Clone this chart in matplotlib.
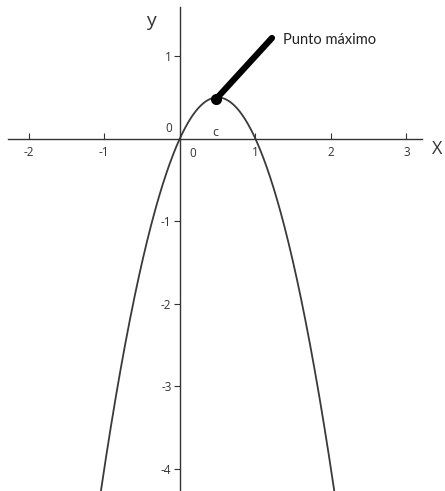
import numpy as np
import matplotlib.pyplot as plt

plt.rcParams['axes.unicode_minus'] = False
plt.rcParams['font.family'] = ['Open Sans', 'DejaVu Sans']

# parabola y = a*x^2 + b*x + c
coef = [-2.0, 2.0, 0.0]
x_range = [-1.07, 2.07]
x_ticks = [-2, -1, 1, 2, 3]
y_ticks = [-4, -3, -2, -1, 1]
max_point = [0.48, 0.48]
label_end = [1.22, 1.22]

x = np.linspace(x_range[0], x_range[1], 400)
y = np.polyval(coef, x)

fig = plt.figure(figsize=(4.45, 4.91), dpi=100)
ax = fig.add_axes([0, 0, 1, 1])
ax.set_xlim(-2.38, 3.51)
ax.set_ylim(-4.27, 1.68)

ax.plot(x, y, color='#3a3a3a', lw=1.3)

# axes crossing at the origin
for s in ['top', 'right']:
    ax.spines[s].set_visible(False)
ax.spines['left'].set_position(('data', 0))
ax.spines['bottom'].set_position(('data', 0))
ax.spines['left'].set_bounds(-4.27, 1.6)
ax.spines['bottom'].set_bounds(-2.28, 3.2)
for s in ['left', 'bottom']:
    ax.spines[s].set_color('#333333')
    ax.spines[s].set_linewidth(1.0)

ax.set_xticks(x_ticks)
ax.set_yticks(y_ticks)
ax.tick_params(axis='x', direction='in', length=4, width=0.8, colors='#333333',
               labelsize=8.5, pad=5)
ax.tick_params(axis='y', direction='out', length=4, width=0.8, colors='#333333',
               labelsize=8.5, pad=2)

ax.text(-0.15, 0.05, '0', fontsize=8.5, color='#333333', ha='center', va='bottom')
ax.text(0.17, -0.1, '0', fontsize=8.5, color='#333333', ha='center', va='top')
ax.text(0.47, 0.0, 'c', fontsize=9, color='#333333', ha='center', va='bottom')
ax.text(-0.38, 1.42, 'y', fontsize=14, color='#333333', ha='center', va='center')
ax.text(3.4, -0.12, 'X', fontsize=13, color='#333333', ha='center', va='center')

# marker for the maximum and its label
ax.plot([max_point[0], label_end[0]], [max_point[1], label_end[1]],
        color='black', lw=4.5, solid_capstyle='round')
ax.plot(max_point[0], max_point[1], 'o', color='black', ms=7)
ax.text(1.37, 1.2, 'Punto máximo', fontsize=10.5, color='#222222',
        ha='left', va='center', family='Lato')

plt.savefig('out.png', dpi=100)
